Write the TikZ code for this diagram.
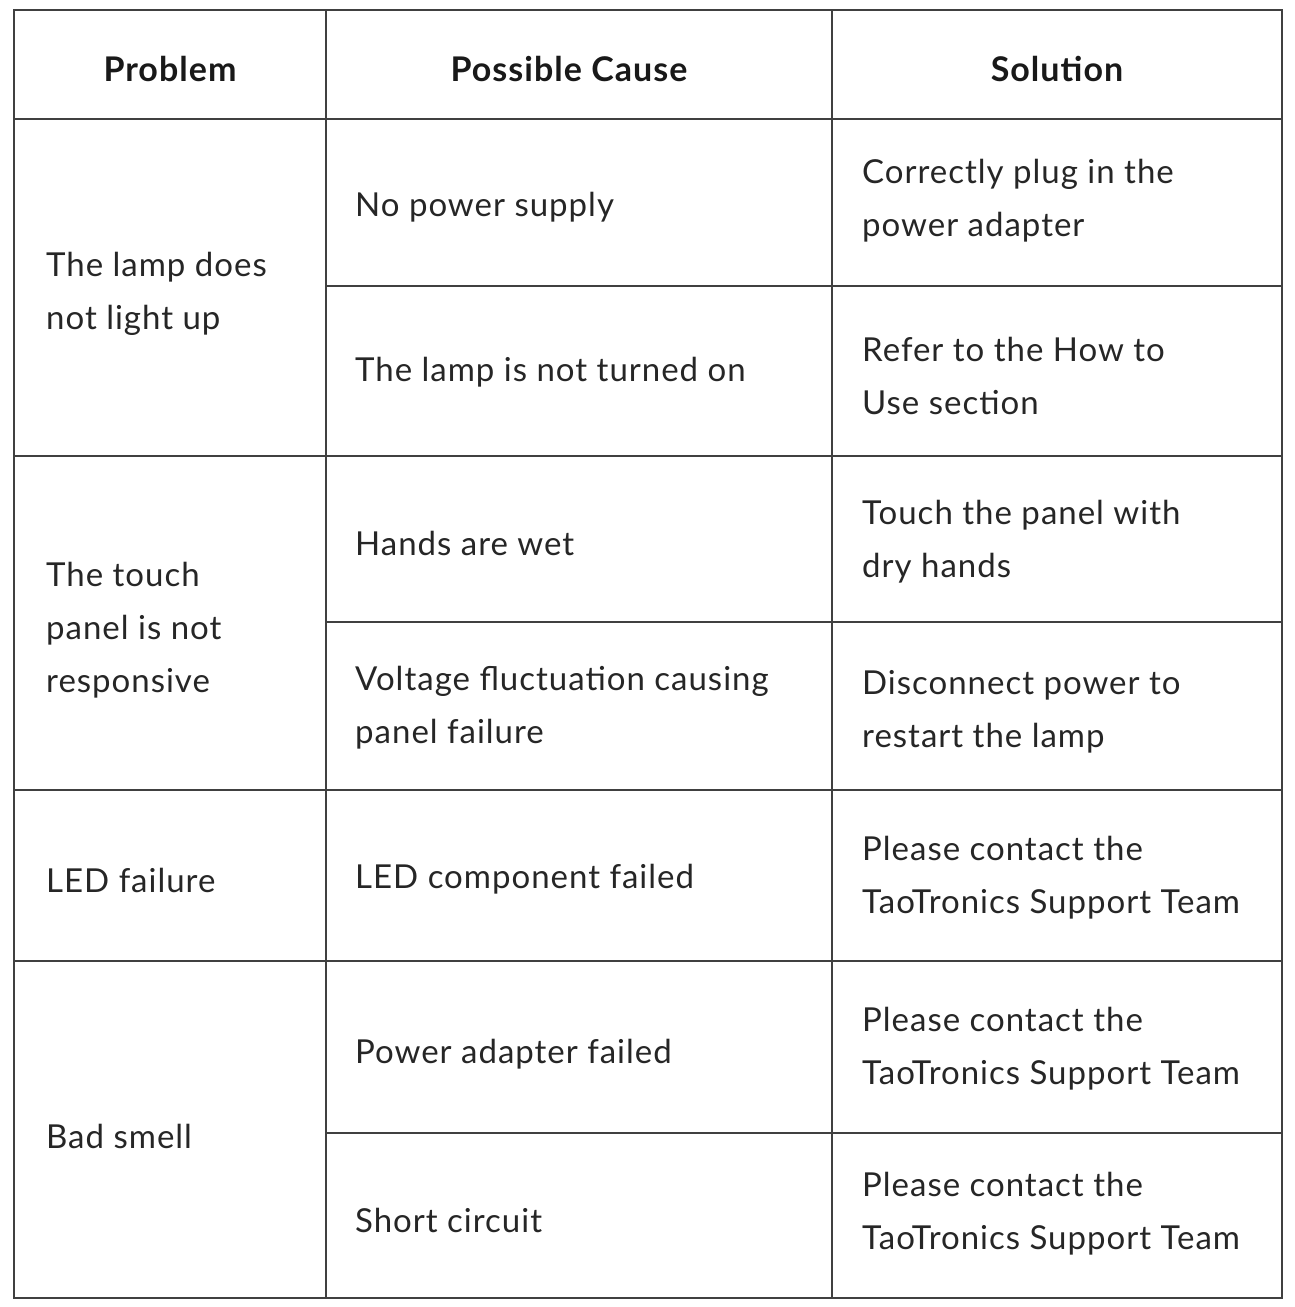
\documentclass[tikz,border=0pt]{standalone}
\usepackage{fontspec}
\setmainfont{Lato}[LetterSpace=3]
\begin{document}
\begin{tikzpicture}[x=1pt,y=-1pt,
  cell/.style={anchor=west,align=left,inner sep=0pt,text=black!85,font=\fontsize{33}{53}\selectfont},
  head/.style={anchor=center,inner sep=0pt,text=black!90,font=\fontsize{34}{53}\selectfont\bfseries},
  grid/.style={draw=black!75,line width=1.3pt}]
\useasboundingbox (0,0) rectangle (1295,1307);
\draw[grid] (14,10) rectangle (1282,1298);
\foreach \x in {326,832} \draw[grid] (\x,10) -- (\x,1298);
\foreach \y in {119,456,790,961} \draw[grid] (14,\y) -- (1282,\y);
\foreach \y in {286,622,1133} \draw[grid] (326,\y) -- (1282,\y);
\node[head] (h1) at (170,69) {Problem};
\node[head] (h2) at (569,69) {Possible Cause};
\node[head] (h3) at (1057,69) {Solution};
\node[cell] (p1) at (46,294) {The lamp does\\not light up};
\node[cell] (p2) at (46,630) {The touch\\panel is not\\responsive};
\node[cell] (p3) at (46,880) {LED failure};
\node[cell] (p4) at (46,1136) {Bad smell};
\node[cell] (c1) at (355,207) {No power supply};
\node[cell] (c2) at (355,372) {The lamp is not turned on};
\node[cell] (c3) at (355,543) {Hands are wet};
\node[cell] (c4) at (355,708) {Voltage fluctuation causing\\panel failure};
\node[cell] (c5) at (355,879) {LED component failed};
\node[cell] (c6) at (355,1054) {Power adapter failed};
\node[cell] (c7) at (355,1220) {Short circuit};
\node[cell] (s1) at (862,201) {Correctly plug in the\\power adapter};
\node[cell] (s2) at (862,376) {Refer to the How to\\Use section};
\node[cell] (s3) at (862,542) {Touch the panel with\\dry hands};
\node[cell] (s4) at (862,712) {Disconnect power to\\restart the lamp};
\node[cell] (s5) at (862,878) {Please contact the\\TaoTronics Support Team};
\node[cell] (s6) at (862,1049) {Please contact the\\TaoTronics Support Team};
\node[cell] (s7) at (862,1214) {Please contact the\\TaoTronics Support Team};
\end{tikzpicture}
\end{document}
